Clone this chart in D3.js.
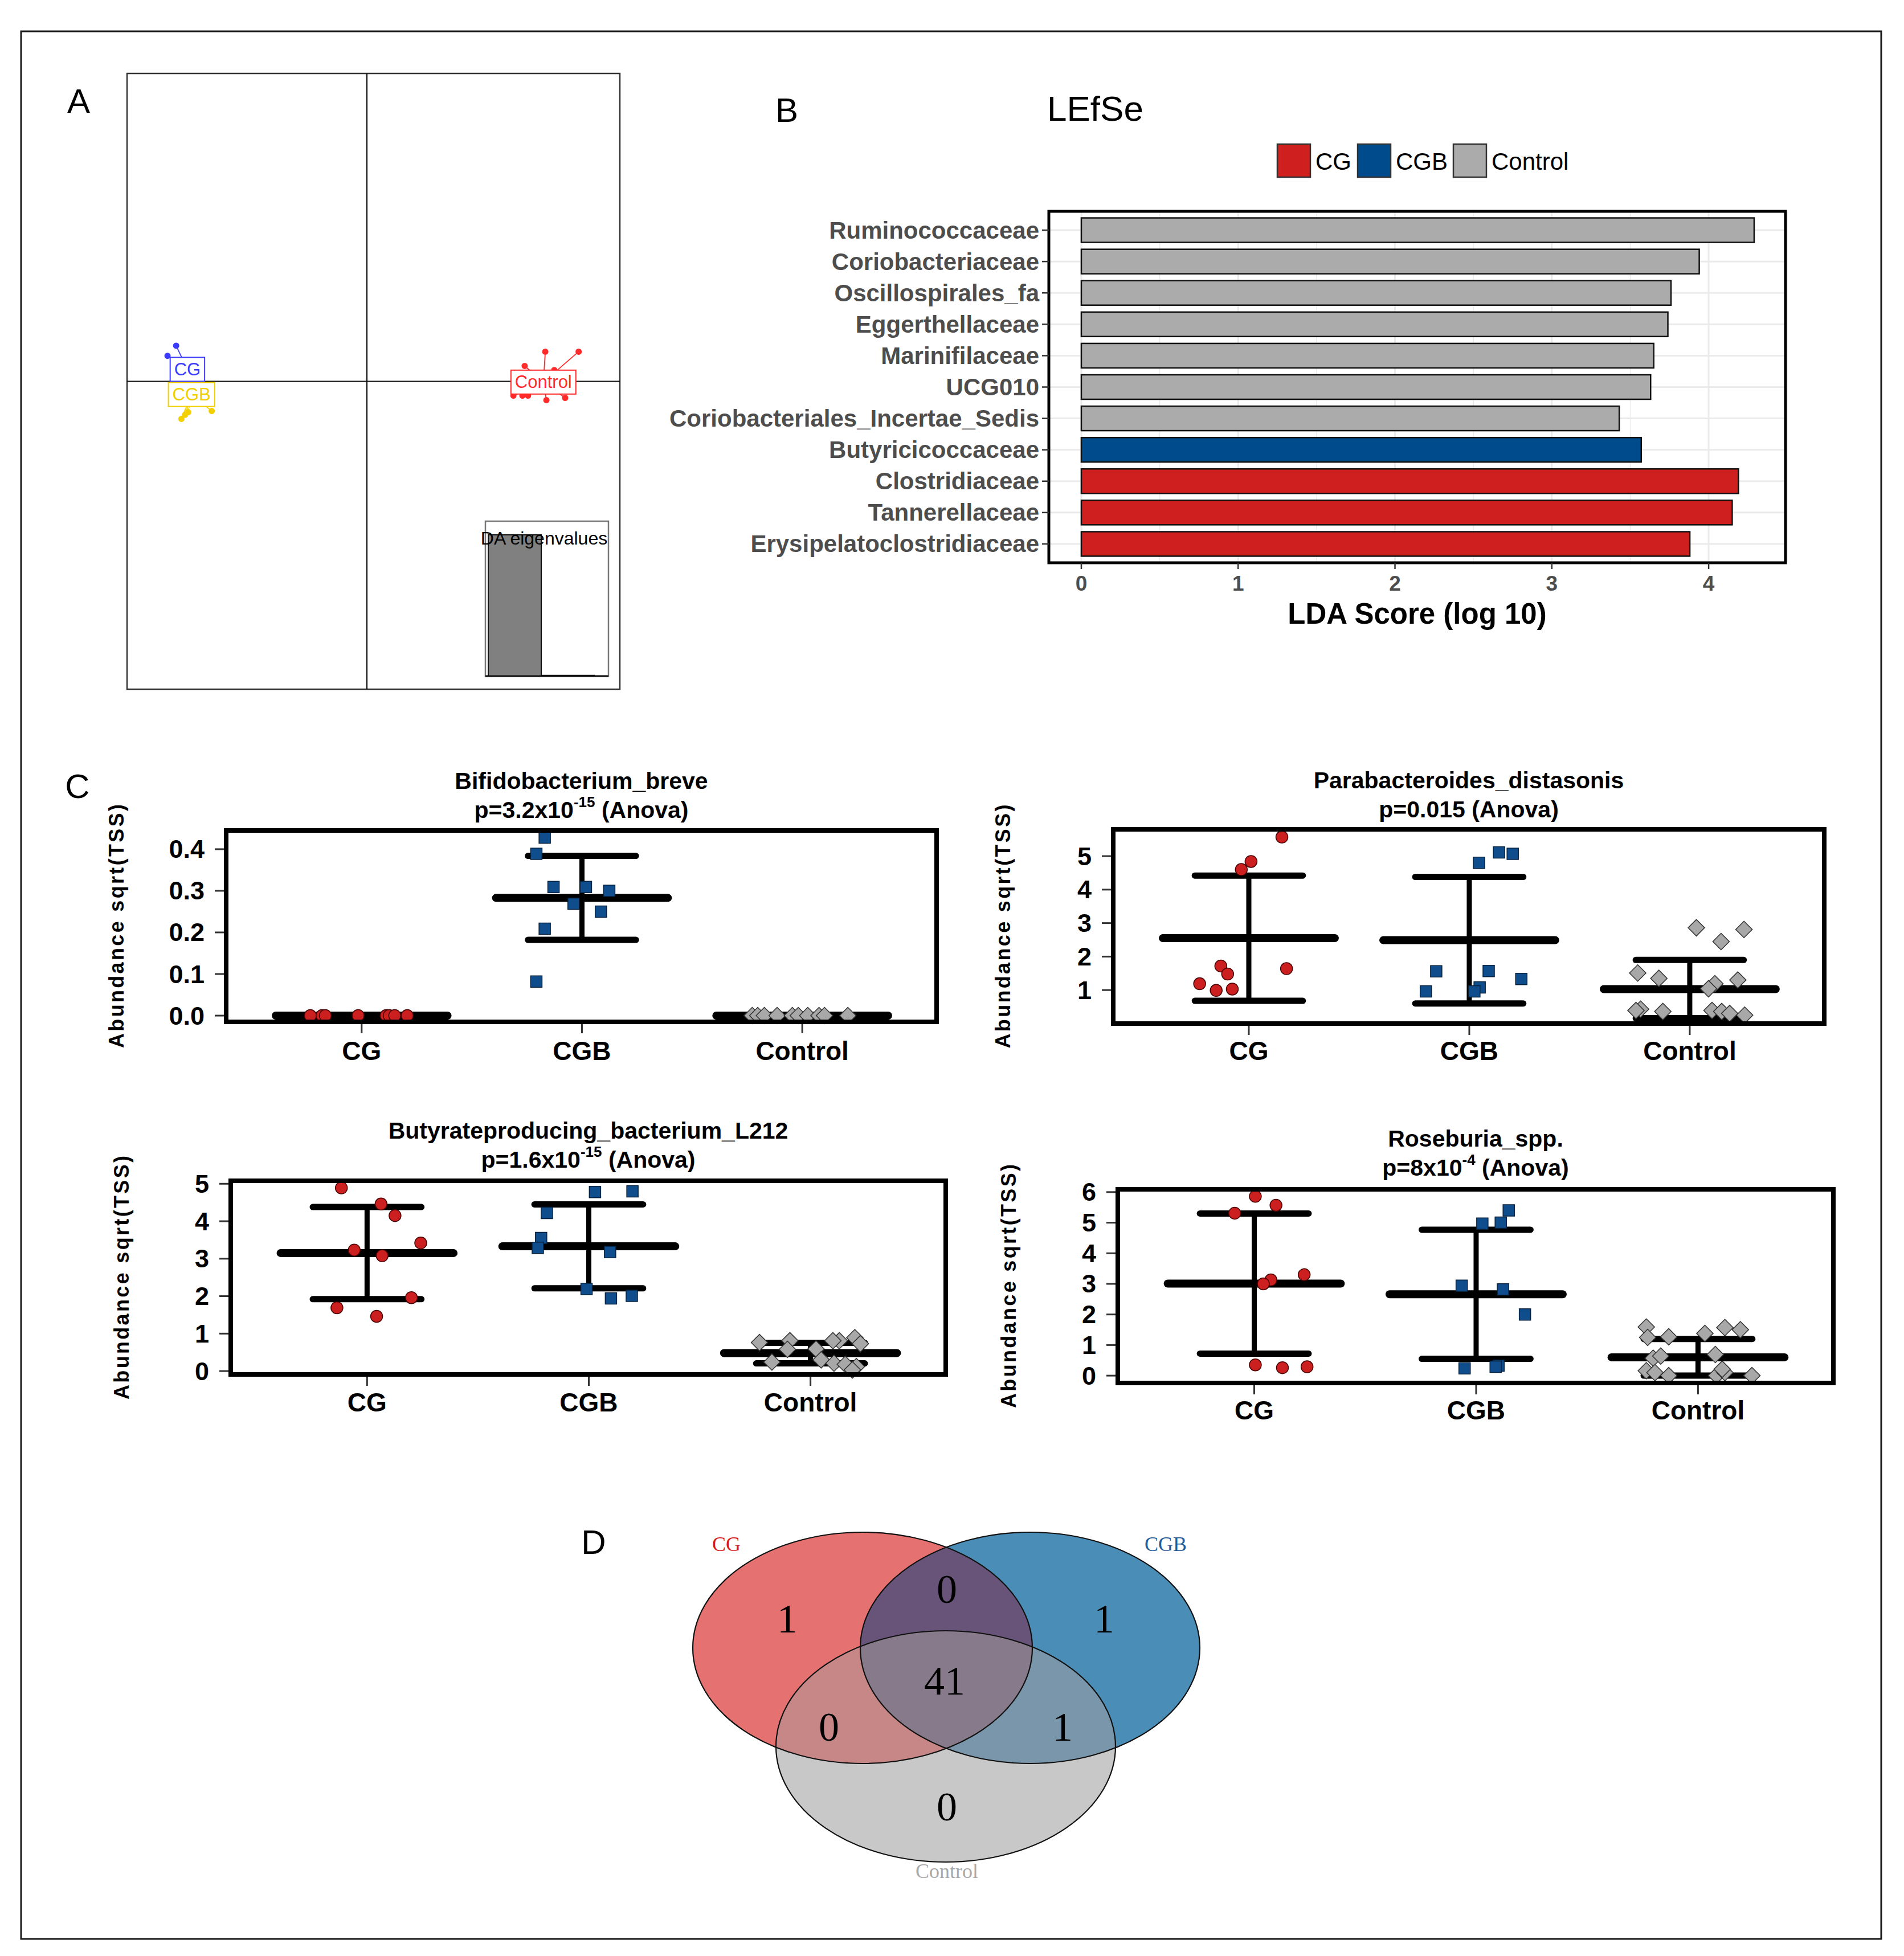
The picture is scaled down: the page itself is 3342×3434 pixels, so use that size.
<!DOCTYPE html>
<html lang="en">
<head>
<meta charset="utf-8">
<title>DAPC / LEfSe / abundance / Venn</title>
<script src="https://cdn.jsdelivr.net/npm/d3@7"></script>
<style>
  html, body { margin:0; padding:0; background:#fff; }
  svg { display:block; font-family: "Liberation Sans", Arial, sans-serif; }
</style>
</head>
<body>
<div id="fig"></div>
<script>
// ---------------- data ----------------
const groups = ["CG", "CGB", "Control"];

// A: DAPC scatter, LD1 / LD2 per sample, plus group centroids
const daCG  = [[-5.09, 0.95], [-5.32, 0.68], [-4.85, 0.45], [-4.65, 0.25], [-4.95, 0.2]];
const daCGB = [[-4.95, -1.0], [-4.77, -0.82], [-4.14, -0.79], [-4.85, -0.89], [-4.6, -0.45]];
const daCtl = [[4.76, 0.79], [5.65, 0.79], [4.21, 0.41], [3.91, -0.38], [4.15, -0.38],
               [4.3, -0.38], [4.79, -0.5], [5.29, -0.44], [5.0, 0.3]];
const daCentroids = [[-4.79, 0.32], [-4.68, -0.35], [4.71, -0.02]];
const daEigen = [100, 0.5];

// B: LEfSe
const lefseTaxa = ["Ruminococcaceae", "Coriobacteriaceae", "Oscillospirales_fa", "Eggerthellaceae",
  "Marinifilaceae", "UCG010", "Coriobacteriales_Incertae_Sedis", "Butyricicoccaceae",
  "Clostridiaceae", "Tannerellaceae", "Erysipelatoclostridiaceae"];
const lefseLDA = [4.29, 3.94, 3.76, 3.74, 3.65, 3.63, 3.43, 3.57, 4.19, 4.15, 3.88];
const lefseGroup = ["Control", "Control", "Control", "Control", "Control", "Control", "Control",
  "CGB", "CG", "CG", "CG"];

// C: abundance sqrt(TSS), points as [jitter, value]
const bifCG  = [[-0.233, 0], [-0.18, 0], [-0.165, 0], [-0.016, 0], [0.111, 0], [0.125, 0], [0.15, 0], [0.207, 0]];
const bifCGB = [[-0.169, 0.428], [-0.207, 0.389], [-0.129, 0.309], [0.018, 0.309], [0.124, 0.30],
                [-0.038, 0.269], [0.086, 0.25], [-0.169, 0.209], [-0.207, 0.082]];
const bifCtl = [[-0.227, 0], [-0.202, 0], [-0.172, 0], [-0.114, 0], [-0.045, 0], [-0.018, 0],
                [0.025, 0], [0.076, 0], [0.101, 0], [0.207, 0]];
const bifMean = [0, 0.283, 0];
const bifSd = [0, 0.101, 0];

const paraCG  = [[0.15, 5.57], [0.01, 4.84], [-0.034, 4.6], [-0.127, 1.72], [-0.096, 1.48],
                 [0.171, 1.64], [-0.223, 1.19], [-0.148, 0.99], [-0.075, 1.03]];
const paraCGB = [[0.135, 5.11], [0.197, 5.07], [0.044, 4.8], [-0.15, 1.56], [0.088, 1.57],
                 [0.236, 1.33], [-0.197, 0.96], [0.047, 1.08], [0.023, 0.96]];
const paraCtl = [[0.03, 2.86], [0.246, 2.81], [0.142, 2.45], [-0.236, 1.51], [-0.14, 1.35],
                 [0.218, 1.3], [0.114, 1.19], [0.085, 1.04], [-0.223, 0.43], [-0.122, 0.36],
                 [0.101, 0.39], [0.145, 0.36], [0.181, 0.30], [0.249, 0.25], [-0.244, 0.39]];
const paraMean = [2.55, 2.49, 1.03];
const paraSd = [1.87, 1.89, 0.87];

const butCG  = [[-0.116, 4.89], [0.063, 4.46], [0.126, 4.15], [0.242, 3.42], [-0.058, 3.23],
                [0.068, 3.08], [0.2, 1.96], [-0.136, 1.69], [0.043, 1.46]];
const butCGB = [[0.028, 4.78], [0.197, 4.8], [-0.189, 4.22], [-0.215, 3.55], [-0.23, 3.29],
                [0.096, 3.18], [-0.01, 2.19], [0.1, 1.94], [0.194, 2.01]];
const butCtl = [[-0.23, 0.76], [-0.093, 0.81], [0.13, 0.81], [0.2, 0.89], [0.225, 0.73],
                [-0.104, 0.58], [0.025, 0.59], [-0.174, 0.24], [0.048, 0.3], [0.106, 0.21],
                [0.157, 0.18], [0.207, 0.12], [0.189, 0.03], [0.101, 0.81]];
const butMean = [3.15, 3.33, 0.48];
const butSd = [1.23, 1.12, 0.275];

const roseCG  = [[0.005, 5.86], [0.098, 5.57], [-0.088, 5.31], [0.225, 3.3], [0.075, 3.13],
                 [0.041, 3.0], [0.005, 0.35], [0.127, 0.26], [0.238, 0.29]];
const roseCGB = [[0.147, 5.4], [0.028, 4.97], [0.111, 5.0], [-0.065, 2.94], [0.121, 2.82],
                 [0.22, 2.0], [-0.052, 0.24], [0.101, 0.33], [0.088, 0.29]];
const roseCtl = [[-0.233, 1.59], [0.121, 1.57], [0.191, 1.5], [0.031, 1.38], [-0.227, 1.25],
                 [-0.132, 1.27], [0.078, 0.69], [-0.202, 0.57], [-0.168, 0.64], [-0.233, 0.16],
                 [-0.194, 0.1], [-0.132, 0.0], [0.083, 0.0], [0.121, 0.1], [0.243, 0.0], [0.109, 0.21]];
const roseMean = [3.01, 2.66, 0.6];
const roseSd = [2.29, 2.11, 0.6];

// D: venn counts
const vennRegions = ["CG", "CGB", "Control", "CG&CGB", "CG&Control", "CGB&Control", "all"];
const vennCounts = [1, 1, 0, 0, 0, 1, 41];

// ---------------- drawing ----------------
const W = 3342, H = 3434;
const svg = d3.select("#fig").append("svg").attr("width", W).attr("height", H);

// outer frame
svg.append("rect").attr("x", 37).attr("y", 55).attr("width", 3265).attr("height", 3349)
  .attr("fill", "none").attr("stroke", "#1a1a1a").attr("stroke-width", 3);

// panel letters
[["A", 138, 177], ["B", 1381, 193], ["C", 136, 1380], ["D", 1042, 2707]].forEach(function(l) {
  svg.append("text").attr("x", l[1]).attr("y", l[2]).attr("text-anchor", "middle")
    .attr("dominant-baseline", "central").attr("font-size", 60).text(l[0]);
});

// ---- A: DAPC ----
(function() {
  const x = d3.scaleLinear().domain([-6.4, 6.75]).range([223, 1088]);
  const y = d3.scaleLinear().domain([-8.2, 8.2]).range([1210, 129]);
  const g = svg.append("g");
  g.append("rect").attr("x", 223).attr("y", 129).attr("width", 865).attr("height", 1081)
    .attr("fill", "white").attr("stroke", "#333").attr("stroke-width", 2.5);
  g.append("line").attr("x1", x(0)).attr("x2", x(0)).attr("y1", 129).attr("y2", 1210)
    .attr("stroke", "#111").attr("stroke-width", 2.2);
  g.append("line").attr("x1", 223).attr("x2", 1088).attr("y1", y(0)).attr("y2", y(0))
    .attr("stroke", "#111").attr("stroke-width", 2.2);

  const cols = ["#3b3bff", "#f2d000", "#ff2a2a"];
  [daCG, daCGB, daCtl].forEach(function(pts, i) {
    const c = daCentroids[i];
    g.selectAll(null).data(pts).enter().append("line")
      .attr("x1", x(c[0])).attr("y1", y(c[1]))
      .attr("x2", d => x(d[0])).attr("y2", d => y(d[1]))
      .attr("stroke", cols[i]).attr("stroke-width", 1.8);
    g.selectAll(null).data(pts).enter().append("circle")
      .attr("cx", d => x(d[0])).attr("cy", d => y(d[1])).attr("r", 5.5)
      .attr("fill", cols[i]);
  });
  // labels on centroids
  daCentroids.forEach(function(c, i) {
    const lab = g.append("g");
    const t = lab.append("text").attr("x", x(c[0])).attr("y", y(c[1]))
      .attr("text-anchor", "middle").attr("dominant-baseline", "central")
      .attr("font-size", 31).attr("fill", cols[i]).text(groups[i]);
    const w = t.node().getComputedTextLength() + 14;
    lab.insert("rect", "text").attr("x", x(c[0]) - w / 2).attr("y", y(c[1]) - 21)
      .attr("width", w).attr("height", 42).attr("fill", "white")
      .attr("stroke", cols[i]).attr("stroke-width", 2);
  });

  // eigenvalue inset
  const ex = d3.scaleBand().domain([0, 1]).range([857, 1043]);
  const ey = d3.scaleLinear().domain([0, d3.max(daEigen)]).range([1187, 939]);
  g.append("rect").attr("x", 852).attr("y", 915).attr("width", 216).attr("height", 272)
    .attr("fill", "white").attr("stroke", "#777").attr("stroke-width", 2.5);
  g.selectAll(null).data(daEigen).enter().append("rect")
    .attr("x", (d, i) => ex(i)).attr("width", ex.bandwidth())
    .attr("y", d => ey(d)).attr("height", d => 1187 - ey(d))
    .attr("fill", "#808080").attr("stroke", "#111").attr("stroke-width", 2);
  g.append("line").attr("x1", 852).attr("x2", 1068).attr("y1", 1187).attr("y2", 1187)
    .attr("stroke", "#111").attr("stroke-width", 3);
  g.append("text").attr("x", 955).attr("y", 945).attr("text-anchor", "middle")
    .attr("dominant-baseline", "central").attr("font-size", 32).text("DA eigenvalues");
})();

// ---- B: LEfSe ----
(function() {
  const colour = {CG: "#d01f1f", CGB: "#004b8c", Control: "#ababab"};
  const bx0 = 1841, bx1 = 3134, by0 = 371, by1 = 988;
  const x = d3.scaleLinear().domain([-0.207, 4.49]).range([bx0, bx1]);
  const y = d3.scalePoint().domain(lefseTaxa).range([by0, by1]).padding(0.6);
  const bh = y.step() * 0.78;
  const g = svg.append("g");

  // grid
  d3.range(0, 4.51, 0.5).forEach(function(v) {
    g.append("line").attr("x1", x(v)).attr("x2", x(v)).attr("y1", by0).attr("y2", by1)
      .attr("stroke", "#ebebeb").attr("stroke-width", v % 1 === 0 ? 3 : 1.5);
  });
  lefseTaxa.forEach(function(t) {
    g.append("line").attr("x1", bx0).attr("x2", bx1).attr("y1", y(t)).attr("y2", y(t))
      .attr("stroke", "#ebebeb").attr("stroke-width", 3);
  });

  g.selectAll(".bar").data(lefseTaxa).enter().append("rect")
    .attr("class", "bar")
    .attr("x", x(0)).attr("y", d => y(d) - bh / 2)
    .attr("width", (d, i) => x(lefseLDA[i]) - x(0)).attr("height", bh)
    .attr("fill", (d, i) => colour[lefseGroup[i]])
    .attr("stroke", "#111").attr("stroke-width", 2.5);

  g.append("rect").attr("x", bx0).attr("y", by0).attr("width", bx1 - bx0).attr("height", by1 - by0)
    .attr("fill", "none").attr("stroke", "#000").attr("stroke-width", 5);

  // y axis
  lefseTaxa.forEach(function(t) {
    g.append("line").attr("x1", bx0 - 12).attr("x2", bx0).attr("y1", y(t)).attr("y2", y(t))
      .attr("stroke", "#333").attr("stroke-width", 2.5);
    g.append("text").attr("x", bx0 - 17).attr("y", y(t)).attr("text-anchor", "end")
      .attr("dominant-baseline", "central").attr("font-size", 42).attr("font-weight", "bold")
      .attr("fill", "#4d4d4d").text(t);
  });
  // x axis
  [0, 1, 2, 3, 4].forEach(function(v) {
    g.append("line").attr("x1", x(v)).attr("x2", x(v)).attr("y1", by1).attr("y2", by1 + 11)
      .attr("stroke", "#333").attr("stroke-width", 2.5);
    g.append("text").attr("x", x(v)).attr("y", 1024).attr("text-anchor", "middle")
      .attr("dominant-baseline", "central").attr("font-size", 37).attr("font-weight", "bold")
      .attr("fill", "#4d4d4d").text(v);
  });
  g.append("text").attr("x", (bx0 + bx1) / 2).attr("y", 1077).attr("text-anchor", "middle")
    .attr("dominant-baseline", "central").attr("font-size", 51).attr("font-weight", "bold")
    .text("LDA Score (log 10)");

  // title + legend
  g.append("text").attr("x", 1838).attr("y", 190).attr("dominant-baseline", "central")
    .attr("font-size", 62).text("LEfSe");
  const legX = [2242, 2383, 2551];
  groups.forEach(function(k, i) {
    g.append("rect").attr("x", legX[i]).attr("y", 253).attr("width", 58).attr("height", 58)
      .attr("fill", colour[k]).attr("stroke", "#333").attr("stroke-width", 2.5);
    g.append("text").attr("x", legX[i] + 67).attr("y", 283).attr("dominant-baseline", "central")
      .attr("font-size", 42).text(k);
  });
})();

// ---- C: dot plots with mean +- sd ----
const shapeFill = ["#cc1f1f", "#0f4d8c", "#a8a8a8"];
const shapeStroke = ["#4a0000", "#06223f", "#333"];
const shapes = [
  d3.symbol().type(d3.symbolCircle).size(Math.PI * 10.5 * 10.5),
  d3.symbol().type(d3.symbolSquare).size(400),
  d3.symbol().type(d3.symbolSquare).size(420)
];

function dotPlot(cfg, series, means, sds) {
  const x = d3.scaleLinear().domain([0.385, 3.61]).range([cfg.x0, cfg.x1]);
  const y = d3.scaleLinear().domain(cfg.yDomain).range([cfg.y1, cfg.y0]);
  const g = svg.append("g");

  // y ticks and labels
  cfg.yTicks.forEach(function(v) {
    g.append("line").attr("x1", cfg.x0 - 20).attr("x2", cfg.x0).attr("y1", y(v)).attr("y2", y(v))
      .attr("stroke", "#333").attr("stroke-width", 3);
    g.append("text").attr("x", cfg.x0 - 38).attr("y", y(v)).attr("text-anchor", "end")
      .attr("dominant-baseline", "central").attr("font-size", 45).attr("font-weight", "bold")
      .text(cfg.fmt(v));
  });
  // x ticks and labels
  groups.forEach(function(k, i) {
    g.append("line").attr("x1", x(i + 1)).attr("x2", x(i + 1)).attr("y1", cfg.y1).attr("y2", cfg.y1 + 20)
      .attr("stroke", "#333").attr("stroke-width", 3);
    g.append("text").attr("x", x(i + 1)).attr("y", cfg.xlabY).attr("text-anchor", "middle")
      .attr("dominant-baseline", "central").attr("font-size", 46).attr("font-weight", "bold")
      .text(k);
  });
  // y axis title
  g.append("text")
    .attr("transform", "translate(" + cfg.ylabX + "," + ((cfg.y0 + cfg.y1) / 2) + ") rotate(-90)")
    .attr("text-anchor", "middle").attr("dominant-baseline", "central")
    .attr("font-size", 36).attr("font-weight", "bold")
    .attr("textLength", 428).attr("lengthAdjust", "spacing")
    .text("Abundance sqrt(TSS)");
  // titles
  const cx = (cfg.x0 + cfg.x1) / 2;
  g.append("text").attr("x", cx).attr("y", cfg.titleY).attr("text-anchor", "middle")
    .attr("dominant-baseline", "central").attr("font-size", 41).attr("font-weight", "bold")
    .text(cfg.title);
  const p = g.append("text").attr("x", cx).attr("y", cfg.titleY + 51).attr("text-anchor", "middle")
    .attr("dominant-baseline", "central").attr("font-size", 41).attr("font-weight", "bold");
  p.append("tspan").text(cfg.p[0]);
  if (cfg.p[1]) {
    p.append("tspan").attr("font-size", 26).attr("dy", -14).text(cfg.p[1]);
    p.append("tspan").attr("dy", 14).text(cfg.p[2]);
  }

  // mean and sd bars
  means.forEach(function(m, i) {
    const c = i + 1, s = sds[i];
    g.append("line").attr("x1", x(c)).attr("x2", x(c)).attr("y1", y(m - s)).attr("y2", y(m + s))
      .attr("stroke", "#000").attr("stroke-width", 9);
    [m - s, m + s].forEach(function(v) {
      g.append("line").attr("x1", x(c - 0.245)).attr("x2", x(c + 0.245)).attr("y1", y(v)).attr("y2", y(v))
        .attr("stroke", "#000").attr("stroke-width", 11).attr("stroke-linecap", "round");
    });
    g.append("line").attr("x1", x(c - 0.39)).attr("x2", x(c + 0.39)).attr("y1", y(m)).attr("y2", y(m))
      .attr("stroke", "#000").attr("stroke-width", 14).attr("stroke-linecap", "round");
  });

  // points
  series.forEach(function(pts, i) {
    g.selectAll(null).data(pts).enter().append("path")
      .attr("d", shapes[i])
      .attr("transform", d => "translate(" + x(i + 1 + d[0]) + "," + y(d[1]) + ")" + (i === 2 ? " rotate(45)" : ""))
      .attr("fill", shapeFill[i]).attr("stroke", shapeStroke[i]).attr("stroke-width", 1.5);
  });

  // frame
  g.append("rect").attr("x", cfg.x0).attr("y", cfg.y0).attr("width", cfg.x1 - cfg.x0)
    .attr("height", cfg.y1 - cfg.y0).attr("fill", "none").attr("stroke", "#000").attr("stroke-width", 8);
}

dotPlot({x0: 397, x1: 1644, y0: 1458, y1: 1794, yDomain: [-0.015, 0.445], yTicks: [0, 0.1, 0.2, 0.3, 0.4],
  fmt: d3.format(".1f"), ylabX: 204, xlabY: 1845, titleY: 1371,
  title: "Bifidobacterium_breve", p: ["p=3.2x10", "-15", " (Anova)"]},
  [bifCG, bifCGB, bifCtl], bifMean, bifSd);

dotPlot({x0: 1954, x1: 3202, y0: 1456, y1: 1797, yDomain: [0.0, 5.8], yTicks: [1, 2, 3, 4, 5],
  fmt: d3.format("d"), ylabX: 1760, xlabY: 1845, titleY: 1370,
  title: "Parabacteroides_distasonis", p: ["p=0.015 (Anova)"]},
  [paraCG, paraCGB, paraCtl], paraMean, paraSd);

dotPlot({x0: 405, x1: 1660, y0: 2073, y1: 2413, yDomain: [-0.09, 5.08], yTicks: [0, 1, 2, 3, 4, 5],
  fmt: d3.format("d"), ylabX: 213, xlabY: 2462, titleY: 1985,
  title: "Butyrateproducing_bacterium_L212", p: ["p=1.6x10", "-15", " (Anova)"]},
  [butCG, butCGB, butCtl], butMean, butSd);

dotPlot({x0: 1962, x1: 3218, y0: 2088, y1: 2428, yDomain: [-0.24, 6.09], yTicks: [0, 1, 2, 3, 4, 5, 6],
  fmt: d3.format("d"), ylabX: 1770, xlabY: 2476, titleY: 1999,
  title: "Roseburia_spp.", p: ["p=8x10", "-4", " (Anova)"]},
  [roseCG, roseCGB, roseCtl], roseMean, roseSd);

// ---- D: venn ----
(function() {
  const rx = 298, ry = 203;
  const ell = {CG: [1514, 2893], CGB: [1808, 2893], Control: [1660, 3066]};
  const fills = ["#e57171", "#4a8db7", "#c8c8c8", "#685479", "#c78787", "#7a96aa", "#877a8b"];
  const defs = svg.append("defs");
  groups.forEach(function(k) {
    defs.append("clipPath").attr("id", "clip-" + k)
      .append("ellipse").attr("cx", ell[k][0]).attr("cy", ell[k][1]).attr("rx", rx).attr("ry", ry);
  });
  const g = svg.append("g");
  function addEllipse(sel, k, fill) {
    return sel.append("ellipse").attr("cx", ell[k][0]).attr("cy", ell[k][1])
      .attr("rx", rx).attr("ry", ry).attr("fill", fill);
  }
  // single sets, then pairwise overlaps, then the triple overlap on top
  addEllipse(g, "CG", fills[0]);
  addEllipse(g, "CGB", fills[1]);
  addEllipse(g, "Control", fills[2]);
  addEllipse(g.append("g").attr("clip-path", "url(#clip-CG)"), "CGB", fills[3]);
  addEllipse(g.append("g").attr("clip-path", "url(#clip-CG)"), "Control", fills[4]);
  addEllipse(g.append("g").attr("clip-path", "url(#clip-CGB)"), "Control", fills[5]);
  addEllipse(g.append("g").attr("clip-path", "url(#clip-CG)")
    .append("g").attr("clip-path", "url(#clip-CGB)"), "Control", fills[6]);
  groups.forEach(function(k) {
    addEllipse(g, k, "none").attr("stroke", "#111").attr("stroke-width", 2.2);
  });

  // count labels, one per region
  const spots = [[1382, 2842], [1938, 2842], [1662, 3172], [1662, 2790], [1455, 3032], [1865, 3032], [1658, 2951]];
  g.selectAll(".cnt").data(vennCounts).enter().append("text")
    .attr("class", "cnt")
    .attr("x", (d, i) => spots[i][0]).attr("y", (d, i) => spots[i][1])
    .attr("text-anchor", "middle").attr("dominant-baseline", "central")
    .attr("font-family", "'Liberation Serif', 'Times New Roman', serif")
    .attr("font-size", 72).text(d => d);

  const setLab = [[1275, 2711, "#d7191c"], [2046, 2711, "#1f5c99"], [1662, 3285, "#a8a8a8"]];
  groups.forEach(function(k, i) {
    g.append("text").attr("x", setLab[i][0]).attr("y", setLab[i][1]).attr("text-anchor", "middle")
      .attr("dominant-baseline", "central")
      .attr("font-family", "'Liberation Serif', 'Times New Roman', serif")
      .attr("font-size", 36).attr("fill", setLab[i][2]).text(k);
  });
})();
</script>
</body>
</html>
